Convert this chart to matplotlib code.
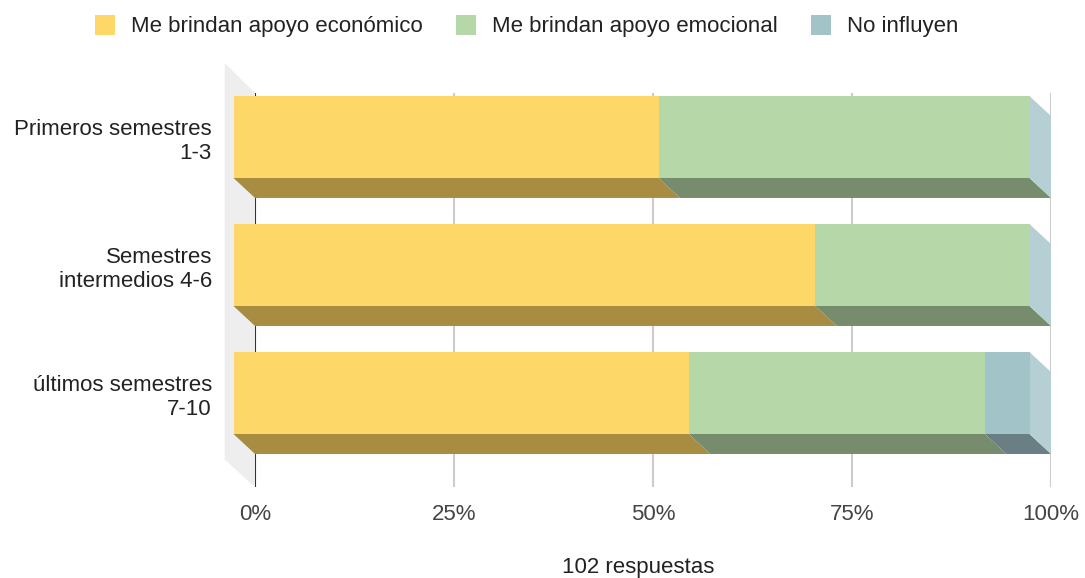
import matplotlib.pyplot as plt
from matplotlib.patches import Polygon, Patch

plt.rcParams['font.family'] = ['Liberation Sans', 'DejaVu Sans']

# Data
categories = ["Primeros semestres\n1-3", "Semestres\nintermedios 4-6", "últimos semestres\n7-10"]
series = ["Me brindan apoyo económico", "Me brindan apoyo emocional", "No influyen"]
economico = [53.4, 73.1, 57.2]
emocional = [46.6, 26.9, 37.2]
no_influyen = [0.0, 0.0, 5.6]
ticks = [0, 25, 50, 75, 100]
tick_labels = ["0%", "25%", "50%", "75%", "100%"]
total_label = "102 respuestas"

front_colors = ["#fdd868", "#b6d7a8", "#a2c4c9"]
bottom_colors = ["#a88c42", "#778b6d", "#6a7f83"]
side_color = "#b6cfd4"
wall_color = "#eeeeee"

# 3D look (in axis units)
dx = 2.7      # depth along x, percent
dy = 0.156    # depth along y, category units
h = 0.64      # bar thickness
fs = 16

W, H = 1085, 578
fig = plt.figure(figsize=(W / 100, H / 100), dpi=100)
ax = fig.add_axes([255 / W, 1 - 487 / H, 796 / W, 394 / H])
ax.set_xlim(0, 100)
ax.set_ylim(2.734, -0.344)
for s in ax.spines.values():
    s.set_visible(False)

# back wall
wall = Polygon([(-3.8, -0.578), (0, -0.344), (0, 2.734), (-3.8, 2.52)],
               closed=True, facecolor=wall_color, edgecolor="none", clip_on=False, zorder=0)
ax.add_patch(wall)

for t in ticks[1:]:
    ax.axvline(t, color="#cccccc", lw=1.5, zorder=1)
ax.axvline(0, color="#333333", lw=1.5, zorder=1)

values = [economico, emocional, no_influyen]
for i in range(len(categories)):
    top = i - h / 2
    bot = i + h / 2
    left = 0
    for j, vals in enumerate(values):
        v = vals[i]
        right = left + v
        if v > 0:
            # front face
            ax.add_patch(Polygon([(left - dx, top), (right - dx, top), (right - dx, bot), (left - dx, bot)],
                                 closed=True, facecolor=front_colors[j], edgecolor="none",
                                 zorder=3, clip_on=False))
            # bottom face
            ax.add_patch(Polygon([(left - dx, bot), (right - dx, bot), (right, bot + dy), (left, bot + dy)],
                                 closed=True, facecolor=bottom_colors[j], edgecolor="none",
                                 zorder=2, clip_on=False))
        left = right
    # right side face
    ax.add_patch(Polygon([(left - dx, top), (left, top + dy), (left, bot + dy), (left - dx, bot)],
                         closed=True, facecolor=side_color, edgecolor="none", zorder=2, clip_on=False))

ax.set_xticks(ticks)
ax.set_xticklabels(tick_labels, fontsize=fs, color="#444444")
ax.set_yticks(range(len(categories)))
ax.set_yticklabels(categories, fontsize=fs, color="#222222")
ax.tick_params(axis="x", length=0, pad=12)
ax.tick_params(axis="y", length=0, pad=31)

fig.text(638 / W, 1 - 567 / H, total_label, ha="center", va="center", fontsize=fs, color="#222222")

handles = [Patch(facecolor=c, edgecolor="none") for c in front_colors]
fig.legend(handles, series, loc="center", bbox_to_anchor=(527 / W, 1 - 26 / H), ncol=3,
           frameon=False, fontsize=fs, handlelength=0.9, handleheight=1.0,
           handletextpad=0.72, columnspacing=1.5, labelcolor="#222222")

fig.savefig("out.png", dpi=100)
